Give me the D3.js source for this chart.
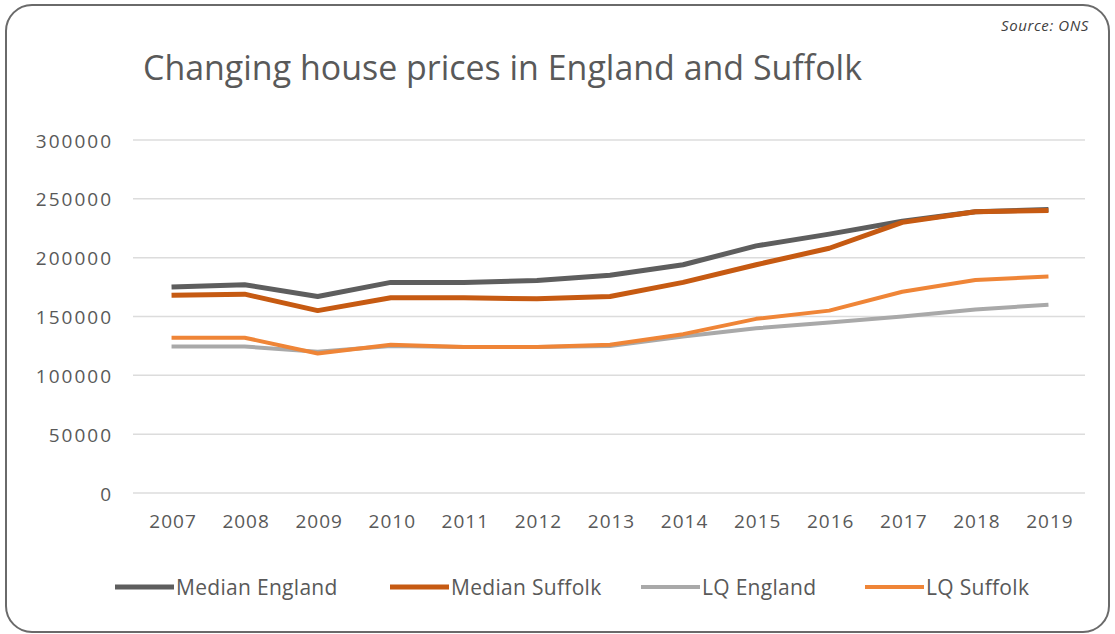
<!DOCTYPE html>
<html>
<head>
<meta charset="utf-8">
<script src="https://cdn.jsdelivr.net/npm/d3@7/dist/d3.min.js"></script>
<style>
  html, body { margin: 0; padding: 0; background: #fff; }
  svg { display: block; }
  text { font-family: "Open Sans", "Noto Sans", sans-serif; }
</style>
</head>
<body>
<svg id="chart" width="1115" height="634"></svg>
<script>
// House price data (ONS), £
const years = ["2007","2008","2009","2010","2011","2012","2013","2014","2015","2016","2017","2018","2019"];
const medianEngland = [175000,177000,167000,179000,179000,180500,185000,194000,210000,220000,231000,239000,241000];
const medianSuffolk = [168000,169000,155000,166000,166000,165000,167000,179000,194000,208000,230000,239000,240000];
const lqEngland     = [124500,124500,120000,125000,124000,124000,125000,133000,140000,145000,150000,156000,160000];
const lqSuffolk     = [132000,132000,118500,126000,124000,124000,126000,135000,148000,155000,171000,181000,184000];
const yTicks = [0,50000,100000,150000,200000,250000,300000];

const series = [
  { name: "Median England", values: medianEngland, color: "#5e5e5e", width: 5 },
  { name: "Median Suffolk", values: medianSuffolk, color: "#c65a12", width: 5 },
  { name: "LQ England",     values: lqEngland,     color: "#a9a9a9", width: 4 },
  { name: "LQ Suffolk",     values: lqSuffolk,     color: "#ef8537", width: 4 }
];

const svg = d3.select("#chart");

// frame
svg.append("rect")
  .attr("x", 6).attr("y", 5).attr("width", 1103).attr("height", 627)
  .attr("rx", 26).attr("ry", 26)
  .attr("fill", "#fff").attr("stroke", "#6a6a6a").attr("stroke-width", 2);

const x = d3.scalePoint().domain(years).range([135, 1085]).padding(0.5);
const y = d3.scaleLinear().domain([0, 300000]).range([493, 140]);

// gridlines
svg.append("g")
  .selectAll("line").data(yTicks).join("line")
  .attr("x1", 133).attr("x2", 1085)
  .attr("y1", d => y(d)).attr("y2", d => y(d))
  .attr("stroke", "#dcdcdc").attr("stroke-width", 1.5);

// y axis labels
const yAxis = d3.axisLeft(y).tickValues(yTicks).tickFormat(d3.format("d")).tickSize(0).tickPadding(0);
const gy = svg.append("g").attr("transform", "translate(113,1)").call(yAxis);
gy.select(".domain").remove();
gy.selectAll("text").attr("font-size", 19).attr("letter-spacing", 2).attr("fill", "#595959")
  .attr("font-family", "'Open Sans', sans-serif");

// x axis labels
const xAxis = d3.axisBottom(x).tickSize(0).tickPadding(0);
const gx = svg.append("g").attr("transform", "translate(1,514)").call(xAxis);
gx.select(".domain").remove();
gx.selectAll("text").attr("font-size", 19).attr("letter-spacing", 1).attr("fill", "#595959")
  .attr("font-family", "'Open Sans', sans-serif");

// lines
const line = d3.line()
  .x((d, i) => x(years[i]))
  .y(d => y(d));

svg.append("g").selectAll("path").data(series).join("path")
  .attr("d", s => line(s.values))
  .attr("fill", "none")
  .attr("stroke", s => s.color)
  .attr("stroke-width", s => s.width)
  .attr("stroke-linejoin", "round");

// title
svg.append("text")
  .attr("x", 143).attr("y", 80)
  .attr("font-size", 34).attr("fill", "#595959")
  .attr("textLength", 719).attr("lengthAdjust", "spacingAndGlyphs")
  .text("Changing house prices in England and Suffolk");

// source note
svg.append("text")
  .attr("x", 1089).attr("y", 31)
  .attr("text-anchor", "end")
  .attr("font-size", 15).attr("letter-spacing", 0.6).attr("font-style", "italic").attr("fill", "#404040")
  .text("Source: ONS");

// legend
const legendPos = [115, 390, 641, 865];
const lg = svg.append("g").selectAll("g").data(series).join("g")
  .attr("transform", (d, i) => `translate(${legendPos[i]},587)`);
lg.append("line")
  .attr("x1", 0).attr("x2", 59).attr("y1", 0).attr("y2", 0)
  .attr("stroke", d => d.color).attr("stroke-width", d => d.width);
lg.append("text")
  .attr("x", 61).attr("y", 8)
  .attr("font-size", 21).attr("letter-spacing", 0.3).attr("fill", "#595959")
  .text(d => d.name);
</script>
</body>
</html>
